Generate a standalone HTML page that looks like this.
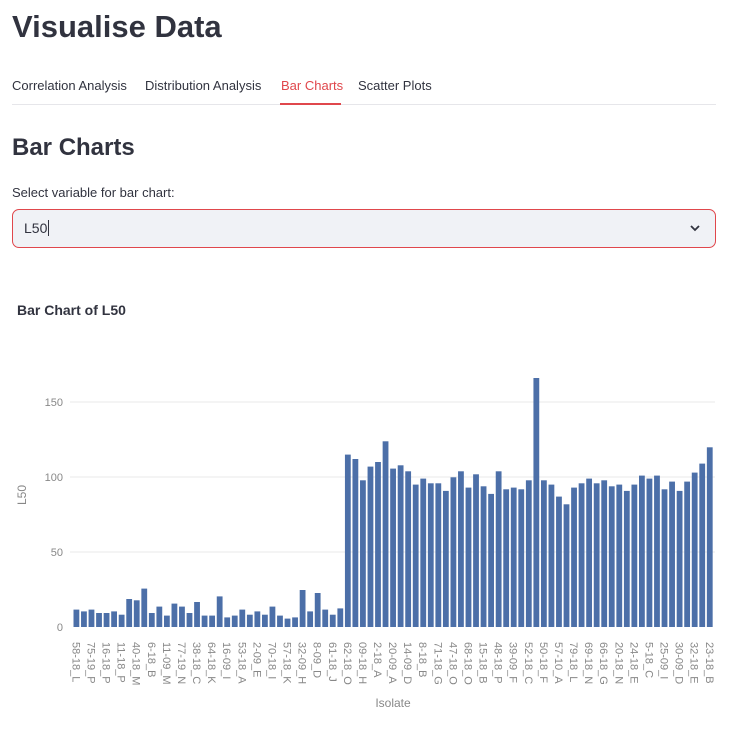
<!DOCTYPE html>
<html><head><meta charset="utf-8"><style>
body{margin:0;background:#fff;font-family:"Liberation Sans",sans-serif;color:#31333f;width:730px;height:736px;overflow:hidden;position:relative}
.a{position:absolute;white-space:nowrap}
</style></head><body>
<div class="a" style="left:12px;top:9px;font-size:31px;font-weight:bold;">Visualise Data</div>
<div class="a" style="left:12px;top:78px;font-size:13px;">Correlation Analysis</div>
<div class="a" style="left:145px;top:78px;font-size:13px;">Distribution Analysis</div>
<div class="a" style="left:281px;top:78px;font-size:13px;color:#e0474c;">Bar Charts</div>
<div class="a" style="left:358px;top:78px;font-size:13px;">Scatter Plots</div>
<div class="a" style="left:12px;top:104px;width:704px;height:1px;background:#e6e6ea"></div>
<div class="a" style="left:280px;top:103px;width:61px;height:2px;background:#e0474c"></div>
<div class="a" style="left:12px;top:134px;font-size:24px;font-weight:bold;">Bar Charts</div>
<div class="a" style="left:12px;top:185px;font-size:13px;">Select variable for bar chart:</div>
<div class="a" style="left:12px;top:209px;width:702px;height:37px;border:1px solid #e0474c;border-radius:7px;background:#f0f2f6"></div>
<div class="a" style="left:24px;top:220px;font-size:14px;">L50<span style="border-left:1px solid #31333f;margin-left:1px"></span></div>
<svg class="a" style="left:688px;top:222px" width="14" height="12"><path d="M3 4 L7 8 L11 4" stroke="#31333f" stroke-width="1.8" fill="none"/></svg>
<svg class="a" style="left:0;top:0" width="730" height="736" id="c"></svg>
<script>
var v=[11.6,10.4,11.6,9.3,9.3,10.4,8.2,18.7,17.8,25.6,9.3,13.6,7.6,15.6,13.6,9.3,16.7,7.6,7.6,20.4,6.4,7.6,11.6,8.2,10.4,8.2,13.6,7.6,5.6,6.4,24.7,10.4,22.7,11.6,8.2,12.4,114.9,112,97.8,106.9,110,123.8,105.6,107.8,103.8,94.9,98.9,95.8,95.8,90.7,99.8,103.8,92.9,101.8,93.8,88.7,103.8,91.8,92.9,91.8,97.8,166,97.8,94.9,86.9,81.8,92.9,95.8,98.9,95.8,97.8,93.8,94.9,90.7,94.9,100.9,98.9,100.9,91.8,96.9,90.7,96.9,102.9,108.9,119.8];
var L="58-18_L,75-19_P,16-18_P,11-18_P,40-18_M,6-18_B,11-09_M,77-19_N,38-18_C,64-18_K,16-09_I,53-18_A,2-09_E,70-18_I,57-18_K,32-09_H,8-09_D,61-18_J,62-18_O,09-18_H,2-18_A,20-09_A,14-09_D,8-18_B,71-18_G,47-18_O,68-18_O,15-18_B,48-18_P,39-09_F,52-18_C,50-18_F,57-10_A,79-18_L,69-18_N,66-18_G,20-18_N,24-18_E,5-18_C,25-09_I,30-09_D,32-18_E,23-18_B".split(",");
var s='<text x="17" y="315" font-size="14" font-weight="bold" fill="#31333f">Bar Chart of L50</text>';
[[0,627],[50,552],[100,477],[150,402]].forEach(function(t){if(t[0])s+='<line x1="70" x2="715" y1="'+t[1]+'" y2="'+t[1]+'" stroke="#e8e8e8"/>';s+='<text x="63" y="'+(t[1]+4)+'" font-size="11" fill="#888" text-anchor="end">'+t[0]+'</text>';});
var p=7.54,x0=73.5,w=5.8;
v.forEach(function(h,i){var x=x0+i*p;s+='<rect x="'+x.toFixed(2)+'" y="'+(627-h*1.5).toFixed(1)+'" width="'+w+'" height="'+(h*1.5).toFixed(1)+'" fill="#4c6fa8"/>';});
L.forEach(function(l,j){var cx=x0+2*j*p+w/2-4;s+='<text transform="translate('+cx.toFixed(1)+',642) rotate(90)" font-size="11" fill="#888">'+l+'</text>';});
s+='<text transform="translate(26,495) rotate(-90)" font-size="12" fill="#888" text-anchor="middle">L50</text>';
s+='<text x="393" y="707" font-size="12" fill="#888" text-anchor="middle">Isolate</text>';
document.getElementById('c').innerHTML=s;
</script>
</body></html>
